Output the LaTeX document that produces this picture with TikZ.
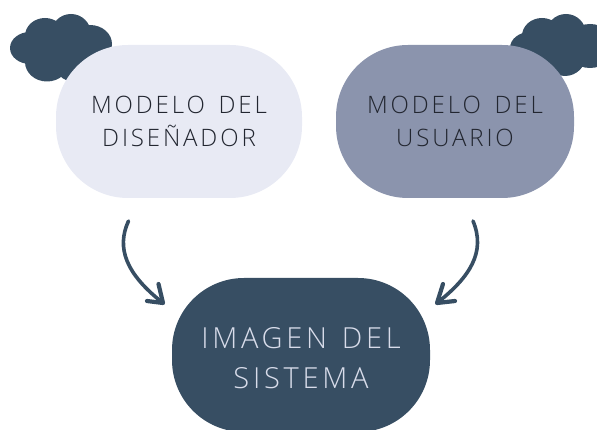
\documentclass[tikz,border=0pt]{standalone}
\usepackage{fontspec}
\newfontfamily\smallface[LetterSpace=12,WordSpace=1.5]{Open Sans Light}
\newfontfamily\bigface[LetterSpace=13,WordSpace=1.3]{Open Sans Light}
\definecolor{slate}{HTML}{374E63}
\definecolor{palepill}{HTML}{E8EAF4}
\definecolor{midpill}{HTML}{8B94AD}
\definecolor{inktext}{HTML}{222630}
\definecolor{paletext}{HTML}{D8DCEA}
\tikzset{
  pill/.style={rounded corners=72pt,minimum height=153pt,inner sep=0pt,align=center},
  smalllabel/.style={pill,text=inktext,font=\smallface\fontsize{24}{33}\selectfont},
  biglabel/.style={pill,fill=slate,text=paletext,font=\bigface\fontsize{29}{40}\selectfont},
  cloudfill/.style={fill=slate,draw=none},
  swoop/.style={draw=slate,line width=3.6pt,line cap=round,line join=round},
  barb/.style={draw=slate,line width=4.2pt,line cap=round,line join=round}
}
\begin{document}
\begin{tikzpicture}[x=1pt,y=-1pt]
\useasboundingbox (0,0) rectangle (597,430);
\clip (0,0) rectangle (597,430);
% left cloud
\path[cloudfill] (30,48) ellipse [x radius=20,y radius=16]
 (45,36) ellipse [x radius=20,y radius=18]
 (71,34) ellipse [x radius=20,y radius=20]
 (90,44) ellipse [x radius=22,y radius=19]
 (47,62) ellipse [x radius=22,y radius=19.5]
 (75,60) ellipse [x radius=22,y radius=22];
% right cloud
\path[cloudfill] (530,48) ellipse [x radius=20,y radius=16]
 (542,36) ellipse [x radius=20,y radius=18]
 (566,34) ellipse [x radius=20,y radius=20]
 (590,46) ellipse [x radius=24,y radius=22]
 (565,55) ellipse [x radius=21,y radius=21];
\node[smalllabel,fill=palepill,minimum width=246pt] (designer) at (179,121.5) {MODELO DEL\\DISEÑADOR};
\node[smalllabel,fill=midpill,minimum width=238pt] (user) at (455,121.5) {MODELO DEL\\USUARIO};
\node[biglabel,minimum width=258pt,minimum height=154pt] (system) at (301,355) {\raisebox{-12pt}[0pt][0pt]{\begin{tabular}{@{}c@{}}IMAGEN DEL\\SISTEMA\end{tabular}}};
\coordinate (ls) at (128.5,221);
\coordinate (lt) at (163,303);
\coordinate (lb1) at (158.5,284);
\coordinate (lb2) at (147,301);
\coordinate (rs) at (473,221);
\coordinate (rt) at (437,303);
\coordinate (rb1) at (443,284);
\coordinate (rb2) at (455,301);
\draw[swoop] (ls) .. controls (116,248) and (126,274) .. (lt);
\draw[barb] (lb1) -- (lt) -- (lb2);
\draw[swoop] (rs) .. controls (486,252) and (470,277) .. (rt);
\draw[barb] (rb1) -- (rt) -- (rb2);
\end{tikzpicture}
\end{document}
